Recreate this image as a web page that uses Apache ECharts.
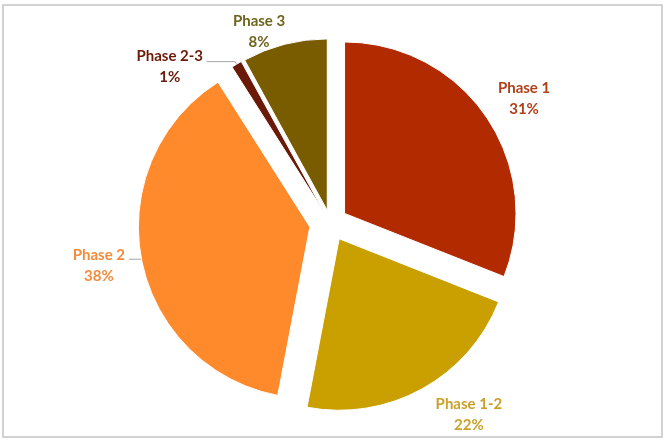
<!DOCTYPE html>
<html><head><meta charset="utf-8">
<script src="https://cdn.jsdelivr.net/npm/echarts@6/dist/echarts.min.js"></script>
<style>html,body{margin:0;padding:0;background:#fff}#c{width:667px;height:442px}</style>
</head><body><div id="c"></div>
<script>
// ---- data ----
const categories = ['Phase 1', 'Phase 1-2', 'Phase 2', 'Phase 2-3', 'Phase 3'];
const values = [31, 22, 38, 1, 8];

// ---- styles / layout tuning (per slice) ----
const sliceColors = ['#B22B00', '#C9A000', '#FF8A2B', '#6B1A08', '#7A5C00'];
const labelColors = ['#B0401A', '#C9A12A', '#F28C3C', '#6B1A08', '#6E6420'];
const explode = [17, 18, 21, 13, 13];
const lblLen = [32.1, 29.1, 1, 3, 13.4];
const lblLen2 = [-23.9, -1.9, 11.5, 28.3, -12.8];
const lblDist = [0, 0, 0, 2, 0];
const lblPadTop = [0, 0, 12, 11, 0];
const lblBoxW = [70, 70, 60, 70, 70];
const showLine = [false, false, true, true, false];

const series = categories.map((name, k) => ({
  type: 'pie',
  center: [330.5, 223],
  radius: 171.5,
  startAngle: 90,
  clockwise: true,
  selectedMode: 'multiple',
  selectedOffset: explode[k],
  avoidLabelOverlap: false,
  percentPrecision: 0,
  emphasis: { disabled: true },
  silent: true,
  animation: false,
  data: categories.map((n, i) => ({
    name: n,
    value: values[i],
    selected: i === k,
    itemStyle: i === k
      ? { color: sliceColors[i], borderColor: '#fff', borderWidth: 1 }
      : { color: 'rgba(0,0,0,0)', borderWidth: 0 },
    label: { show: i === k },
    labelLine: { show: i === k && showLine[k] }
  })),
  select: { itemStyle: { borderColor: '#fff', borderWidth: 1 } },
  label: {
    position: 'outside',
    formatter: '{t|{b}}\n{t|{d}%}',
    distanceToLabelLine: lblDist[k],
    padding: [lblPadTop[k], 0, 0, 0],
    rich: {
      t: {
        width: lblBoxW[k], align: 'center',
        fontFamily: 'Lato', fontWeight: 'bold', fontSize: 15, lineHeight: 21,
        color: labelColors[k]
      }
    }
  },
  labelLine: {
    length: lblLen[k], length2: lblLen2[k], smooth: false,
    lineStyle: { color: '#A6A6A6', width: 1 }
  }
}));

const chart = echarts.init(document.getElementById('c'));
chart.setOption({
  backgroundColor: '#fff',
  animation: false,
  graphic: [{
    type: 'rect', silent: true, z: -1,
    shape: { x: 3, y: 5, width: 659, height: 432 },
    style: { fill: null, stroke: '#C4C4C4', lineWidth: 1.5 }
  }],
  series: series
});
</script>
</body></html>
